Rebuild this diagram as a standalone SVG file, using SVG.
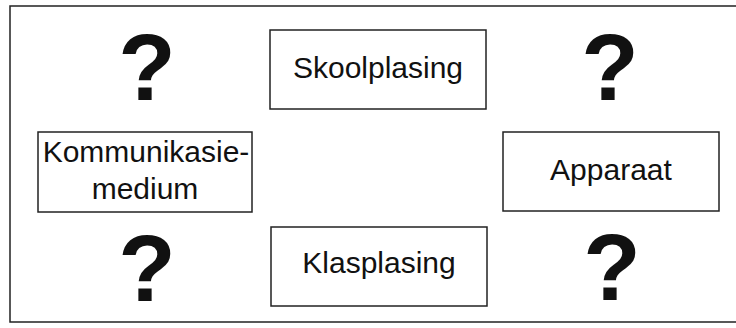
<svg xmlns="http://www.w3.org/2000/svg" width="736" height="328" viewBox="0 0 736 328">
<style>
.box{fill:#fff;stroke:#222;stroke-width:1.5}
.lbl{font-family:"Liberation Sans",Arial,sans-serif;font-size:30px;fill:#111;text-anchor:middle}
.q{font-family:"Liberation Sans",Arial,sans-serif;font-size:94px;font-weight:bold;fill:#111;text-anchor:middle}
.frame{fill:none;stroke:#222;stroke-width:1.5}
</style>
<rect width="736" height="328" fill="#fff"/>
<path class="frame" d="M736,6 H10 V322 H736"/>
<g id="connectors"></g>
<g id="skoolplasing">
<rect class="box" x="270" y="30" width="216" height="79"/>
<text class="lbl" x="378" y="78">Skoolplasing</text>
</g>
<g id="kommunikasiemedium">
<rect class="box" x="38" y="132" width="214" height="80"/>
<text class="lbl" x="146" y="162">Kommunikasie-</text>
<text class="lbl" x="145" y="199">medium</text>
</g>
<g id="apparaat">
<rect class="box" x="503" y="132" width="216" height="79"/>
<text class="lbl" x="611" y="180">Apparaat</text>
</g>
<g id="klasplasing">
<rect class="box" x="271" y="227" width="216" height="79"/>
<text class="lbl" x="379" y="273">Klasplasing</text>
</g>
<g id="q1"><text class="q" x="147" y="100">?</text></g>
<g id="q2"><text class="q" x="610" y="100">?</text></g>
<g id="q3"><text class="q" x="147" y="301">?</text></g>
<g id="q4"><text class="q" x="612" y="300">?</text></g>
</svg>
